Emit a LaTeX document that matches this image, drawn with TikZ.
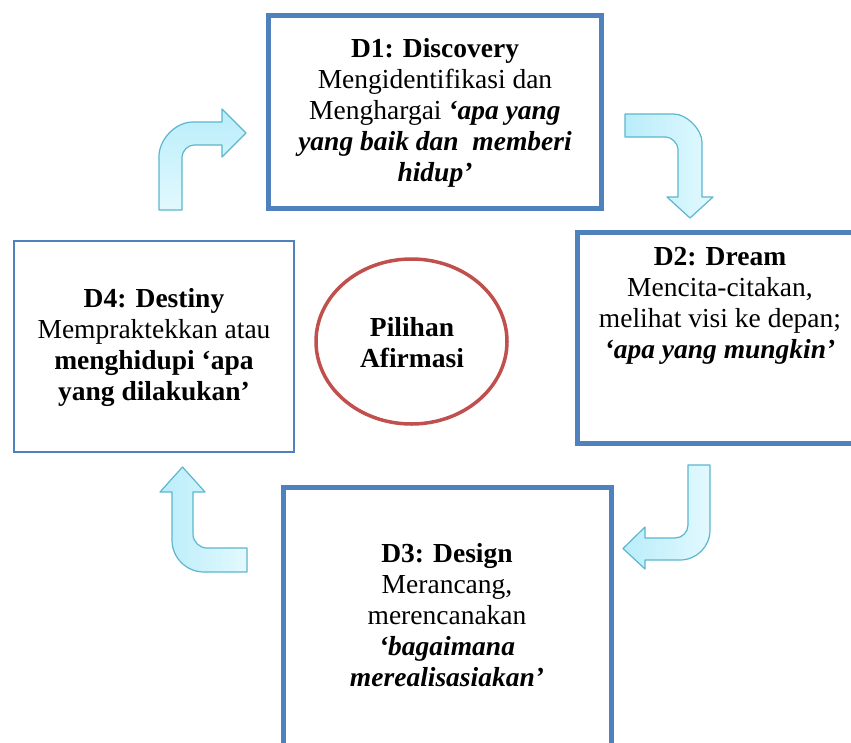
\documentclass[tikz,border=0pt]{standalone}
\usepackage{fontspec}
\setmainfont{Liberation Serif}
\usetikzlibrary{shapes.geometric}
\definecolor{boxblue}{HTML}{4F81BD}
\definecolor{ellred}{HTML}{C0504D}
\definecolor{arrline}{HTML}{5DB6CE}
\definecolor{arrlight}{HTML}{E2F9FE}
\definecolor{arrdark}{HTML}{B9EDFA}
\tikzset{
  boxthick/.style={draw=boxblue, line width=5pt, fill=white, inner sep=0pt, outer sep=0pt},
  boxthin/.style={draw=boxblue, line width=2pt, fill=white, inner sep=0pt, outer sep=0pt},
  txt/.style={align=center, inner sep=0pt, font=\fontsize{27.5}{31}\selectfont},
  bentarrow/.style={draw=arrline, line width=1.2pt, line join=round, left color=arrdark, right color=arrlight},
}
\begin{document}
\begin{tikzpicture}[x=1pt,y=-1pt]
\useasboundingbox (0,0) rectangle (851,742);
\clip (0,0) rectangle (851,742);
\fill[white] (0,0) rectangle (851,742);

% boxes
\node[boxthick, minimum width=333pt, minimum height=193pt] (d1) at (434.5,111.5) {};
\node[boxthick, minimum width=293pt, minimum height=211pt] (d2) at (723.5,337.5) {};
\node[boxthick, minimum width=328pt, minimum height=282pt] (d3) at (447,628) {};
\node[boxthin, minimum width=280pt, minimum height=211pt] (d4) at (154,346.5) {};
\node[draw=ellred, line width=3.5pt, ellipse, minimum width=191pt, minimum height=165pt, inner sep=0pt] (cen) at (411.5,341.5) {};

% texts
\node[txt] (t1) at (435,113) {\textbf{D1: Discovery}\\Mengidentifikasi dan\\Menghargai \textbf{\textit{`apa yang}}\\\textbf{\textit{yang baik dan\ \ memberi}}\\\textbf{\textit{hidup'}}};
\node[txt] (t2) at (720,306) {\textbf{D2: Dream}\\Mencita-citakan,\\melihat visi ke depan;\\\textbf{\textit{`apa yang mungkin'}}};
\node[txt] (t3) at (447,615) {\textbf{D3: Design}\\Merancang,\\merencanakan\\\textbf{\textit{`bagaimana}}\\\textbf{\textit{merealisasiakan'}}};
\node[txt] (t4) at (154,347) {\textbf{D4: Destiny}\\Mempraktekkan atau\\\textbf{menghidupi `apa}\\\textbf{yang dilakukan'}};
\node[txt] (tc) at (412,343) {\textbf{Pilihan}\\\textbf{Afirmasi}};

% arrow 1: up then right (D4 -> D1)
\draw[bentarrow, shading angle=0]
  (159,210) -- (159,156) .. controls (159,140.8) and (174.2,122) .. (193,122)
  -- (222,122) -- (222,109) -- (246,133) -- (222,157) -- (222,145)
  -- (194,145) .. controls (188.6,145) and (182,150.4) .. (182,157) -- (182,210) -- cycle;

% arrow 2: right then down (D1 -> D2)
\draw[bentarrow]
  (625,114) -- (674,114) .. controls (686.5,114) and (702,129.5) .. (702,142)
  -- (702,197) -- (713,197) -- (690,218) -- (667,197) -- (678,197)
  -- (678,149) .. controls (678,143.6) and (671.4,137) .. (666,137) -- (625,137) -- cycle;

% arrow 3: down then left (D2 -> D3)
\draw[bentarrow]
  (688,465) -- (710,465) -- (710,530) .. controls (710,546.6) and (696.6,560) .. (680,560)
  -- (645,560) -- (645,569) -- (623,548.5) -- (645,527) -- (645,538)
  -- (675,538) .. controls (682.2,538) and (688,532.2) .. (688,525) -- cycle;

% arrow 4: left then up (D3 -> D4)
\draw[bentarrow]
  (247,548) -- (207,548) .. controls (199.3,548) and (193,541.7) .. (193,534)
  -- (193,492) -- (205,492) -- (182.5,467) -- (160,492) -- (172,492)
  -- (172,540) .. controls (172,557.7) and (186.3,572) .. (204,572) -- (247,572) -- cycle;
\end{tikzpicture}
\end{document}
